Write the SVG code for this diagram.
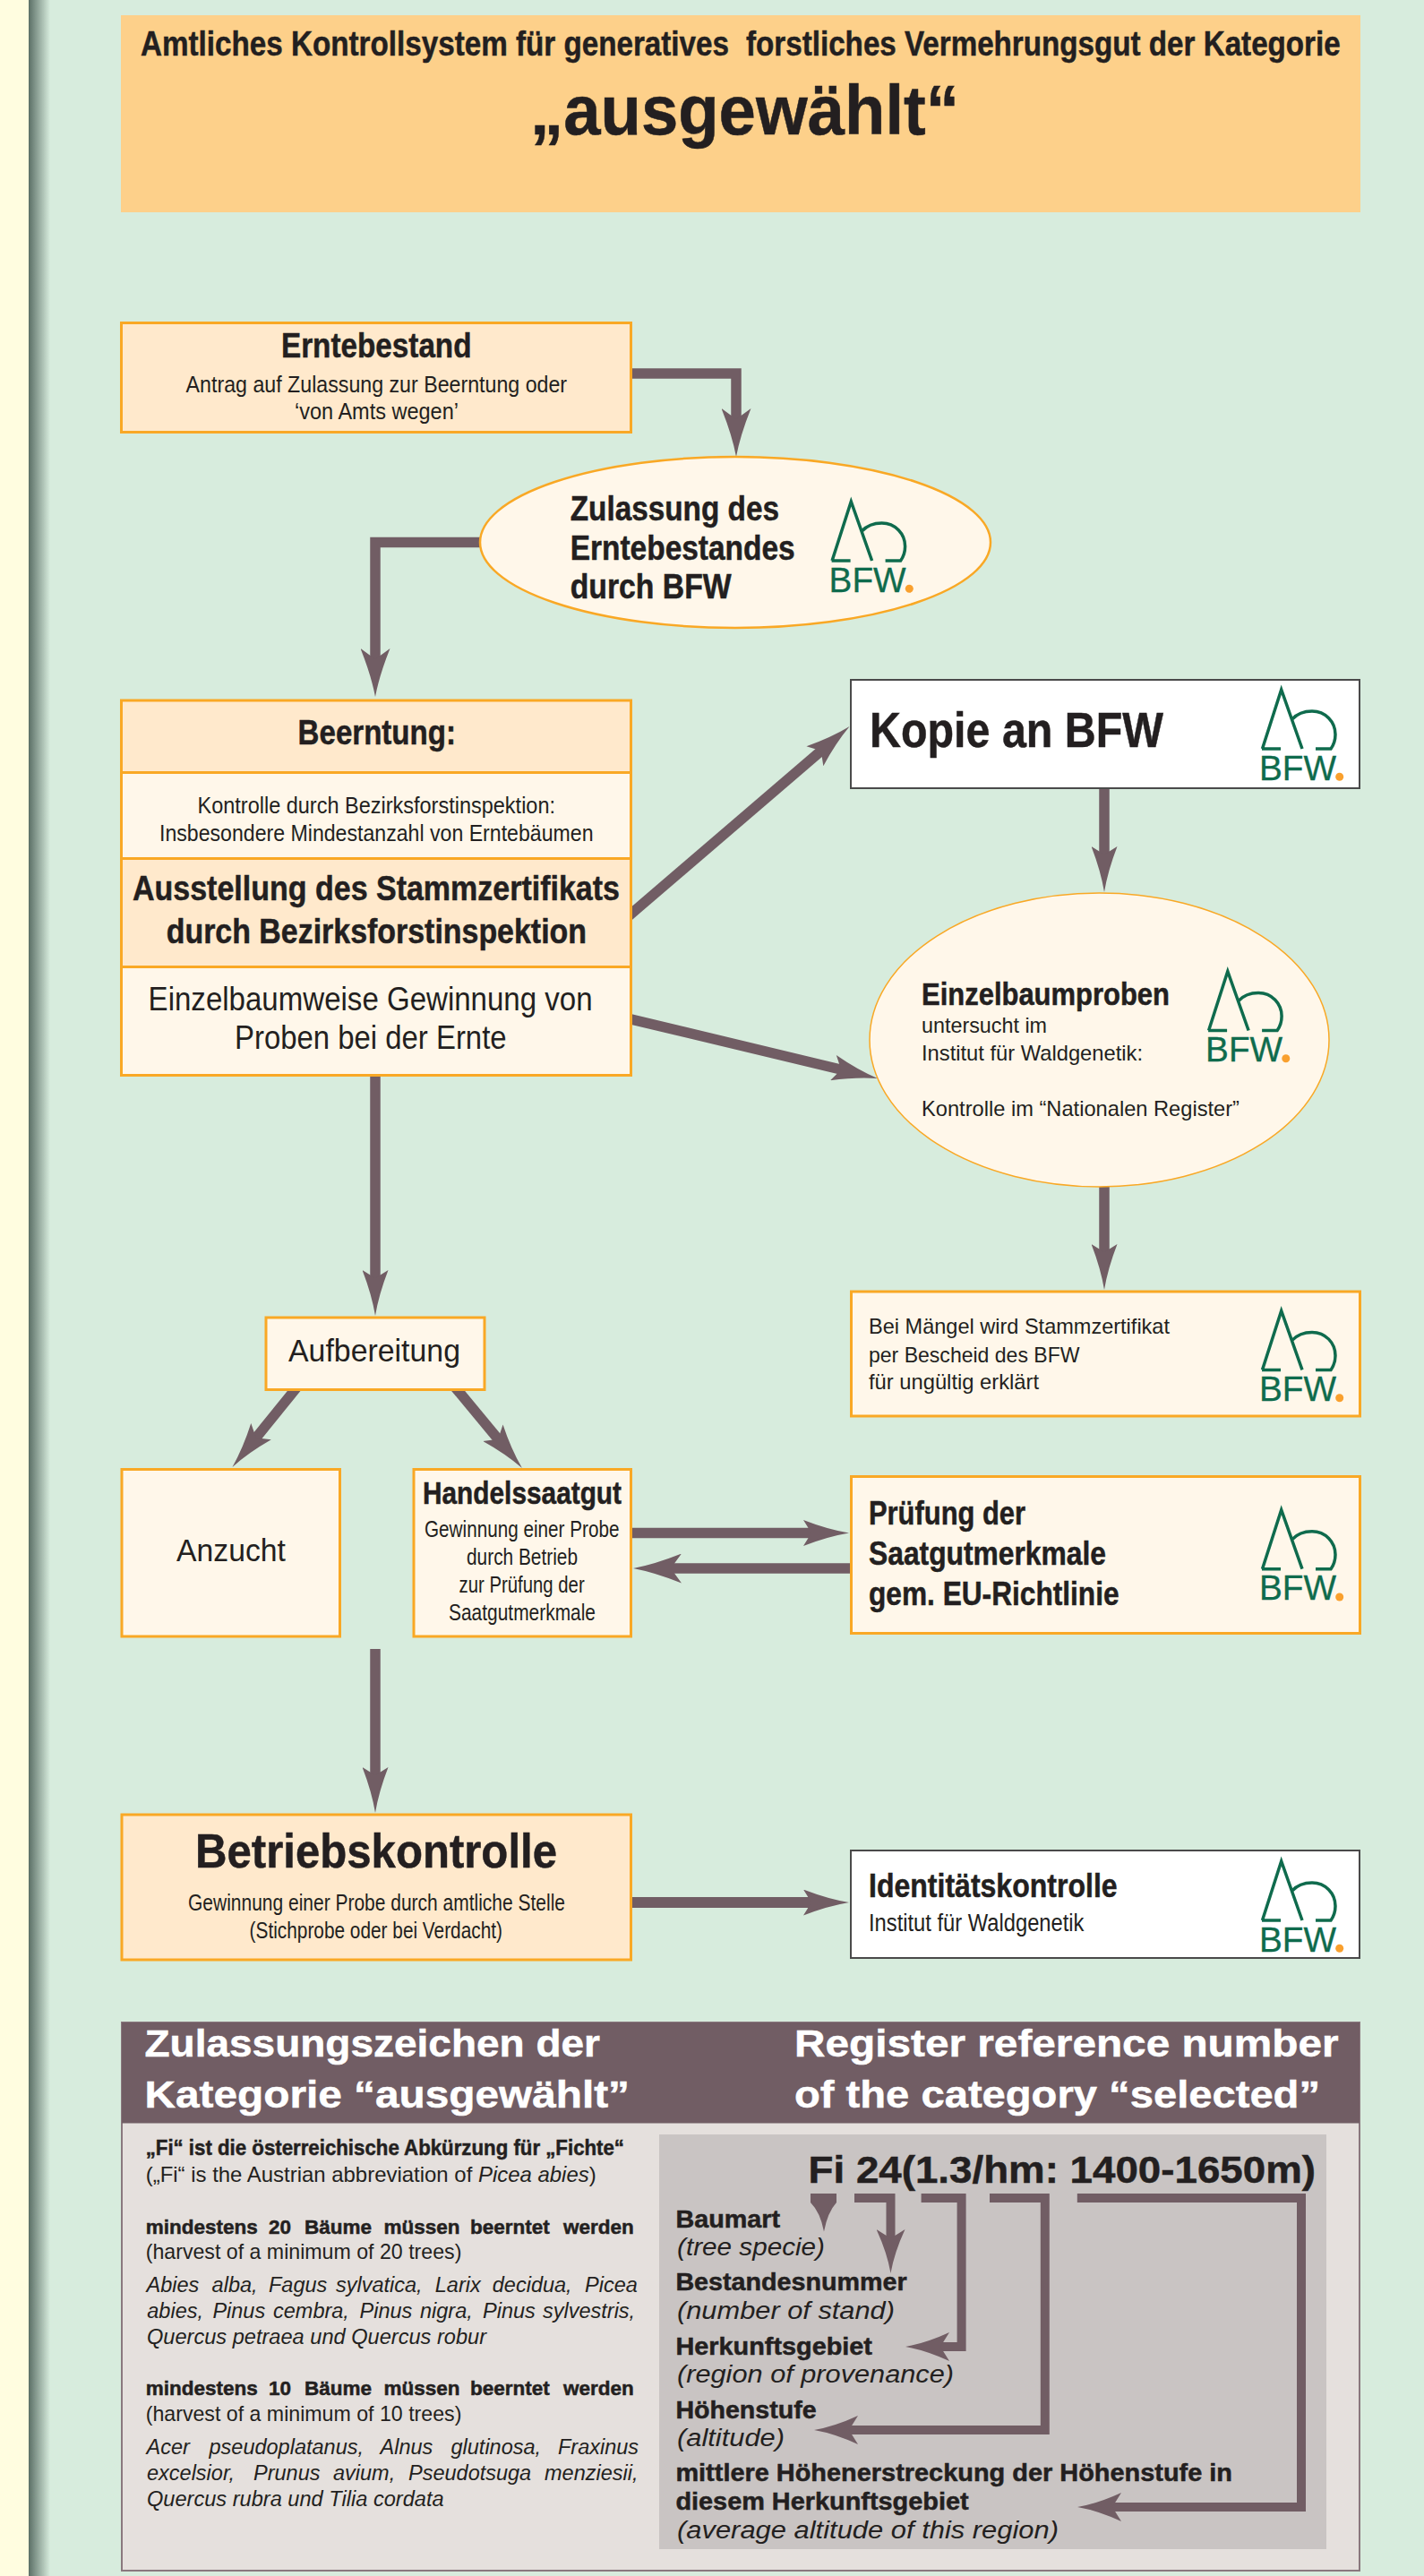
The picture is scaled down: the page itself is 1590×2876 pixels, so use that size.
<svg xmlns="http://www.w3.org/2000/svg" width="1590" height="2876" viewBox="0 0 1590 2876">
<style>
text{fill:#231f20;font-family:"Liberation Sans",Arial,sans-serif}
.n{font-family:"Liberation Sans Narrow","Liberation Sans",Arial,sans-serif}
.bd{font-weight:700;stroke:#231f20;stroke-width:.5}
.it{font-style:italic}
.wh{fill:#fff;stroke:#fff}
.box{stroke:#f9a825;stroke-width:3}
.cream{fill:#fff7ea}
.peach{fill:#ffe9cc}
.plain{fill:#fff;stroke:#4a4a4a;stroke-width:2}
.conn{fill:none;stroke:#715d64;stroke-width:11.500}
.small{stroke-width:10}
.lgL{fill:none;stroke:#0f6b4d;stroke-width:3.500}
.lgT{fill:#0f6b4d;font-size:38px;stroke:#0f6b4d;stroke-width:.3}
</style>
<defs>
<linearGradient id="edge" gradientUnits="userSpaceOnUse" x1="32" y1="0" x2="56" y2="0">
<stop offset="0" stop-color="#5b6f66"/><stop offset="1" stop-color="#d7ecdd"/>
</linearGradient>
<marker id="ah" markerUnits="userSpaceOnUse" viewBox="0 0 54 33" markerWidth="54" markerHeight="33" refX="22" refY="16.5" orient="auto">
<path d="M0,0Q30,12 54,16.5Q30,21 0,33L12,16.5Z" fill="#715d64"/>
</marker>
<marker id="am" markerUnits="userSpaceOnUse" viewBox="0 0 54 29" markerWidth="54" markerHeight="29" refX="22" refY="14.5" orient="auto">
<path d="M3,0Q30,10.500 54,14.500Q30,18.500 3,29L12,14.500Z" fill="#715d64"/>
</marker>
<marker id="as" markerUnits="userSpaceOnUse" viewBox="0 0 49 32" markerWidth="49" markerHeight="32" refX="20" refY="16" orient="auto">
<path d="M0,0Q26,12 49,16Q26,20 0,32L10,16Z" fill="#715d64"/>
</marker>
<g id="logo">
<path class="lgL" d="M29.500,86L50.700,20L74,86M29,86H50M62.700,53Q71,44 85,44C100,44 111,56 111,70Q111,79 106,86H89"/>
<text class="lgT" x="26" y="120.500" textLength="86" lengthAdjust="spacingAndGlyphs">BFW</text>
<circle cx="115.700" cy="117.300" r="4.500" fill="#f9a02e"/>
</g>
</defs>

<rect width="1590" height="2876" fill="#d7ecdd"/>
<rect x="32" width="24" height="2876" fill="url(#edge)"/>
<rect width="32" height="2876" fill="#fffde0"/>

<g id="header">
<rect x="135" y="17" width="1384" height="220" fill="#fdd08a"/>
<text class="n bd" x="157" y="62" font-size="38" textLength="657" lengthAdjust="spacingAndGlyphs">Amtliches Kontrollsystem für generatives</text>
<text class="n bd" x="833" y="62" font-size="38" textLength="663.700" lengthAdjust="spacingAndGlyphs">forstliches Vermehrungsgut der Kategorie</text>
<text class="bd" x="592" y="150" font-size="77" textLength="479" lengthAdjust="spacingAndGlyphs">„ausgewählt“</text>
</g>

<g id="panel-frame">
<rect x="136" y="2258" width="1382" height="612" fill="#e5e0dd" stroke="#8a787e" stroke-width="2"/>
<rect x="136" y="2258" width="1382" height="112.500" fill="#715d64"/>
<rect x="736" y="2383" width="745" height="463" fill="#c9c4c3"/>
</g>

<g id="connectors">
<path class="conn" marker-end="url(#ah)" d="M700,417H822V478"/>
<path class="conn" marker-end="url(#ah)" d="M540,605.500H419V746"/>
<path class="conn" marker-end="url(#am)" d="M700,1024.300L924.300,831.800"/>
<path class="conn" marker-end="url(#am)" d="M700,1136.800L948.900,1196.500"/>
<path class="conn" marker-end="url(#am)" d="M1233,878V964"/>
<path class="conn" marker-end="url(#am)" d="M1233,1323V1408"/>
<path class="conn" marker-end="url(#am)" d="M419,1198V1437"/>
<path class="conn" marker-end="url(#am)" d="M333,1547L279.600,1613"/>
<path class="conn" marker-end="url(#am)" d="M507.500,1548L562.500,1614.400"/>
<path class="conn" marker-end="url(#am)" d="M700,1711.500H916"/>
<path class="conn" marker-end="url(#ah)" d="M952,1751H739"/>
<path class="conn" marker-end="url(#am)" d="M419,1841V1992"/>
<path class="conn" style="stroke-width:12" marker-end="url(#am)" d="M700,2124H916"/>
<path d="M905,2449H934V2459Q924,2470 920,2491.500Q916,2470 905,2459Z" fill="#715d64"/>
<path class="conn small" marker-end="url(#as)" d="M954,2454H994.500V2509"/>
<path class="conn small" marker-end="url(#as)" d="M1028.600,2454H1073.600V2620H1040"/>
<path class="conn small" marker-end="url(#as)" d="M1105,2454H1166.800V2713H938"/>
<path class="conn small" marker-end="url(#as)" d="M1202.800,2454H1453V2799H1232"/>
</g>

<g id="erntebestand">
<rect class="box peach" x="135.500" y="360.500" width="569" height="122"/>
<text class="n bd" x="314" y="398.500" font-size="38" textLength="212.500" lengthAdjust="spacingAndGlyphs">Erntebestand</text>
<text class="n" x="207.600" y="437.500" font-size="26" textLength="425.500" lengthAdjust="spacingAndGlyphs">Antrag auf Zulassung zur Beerntung oder</text>
<text class="n" x="329" y="468" font-size="26" textLength="183" lengthAdjust="spacingAndGlyphs">‘von Amts wegen’</text>
</g>

<g id="zulassung">
<ellipse class="cream" cx="821" cy="605.500" rx="285" ry="95.500" stroke="#f9a825" stroke-width="2.500"/>
<text class="n bd" x="636.700" y="580.700" font-size="38" textLength="233.300" lengthAdjust="spacingAndGlyphs">Zulassung des</text>
<text class="n bd" x="636.700" y="625" font-size="38" textLength="251" lengthAdjust="spacingAndGlyphs">Erntebestandes</text>
<text class="n bd" x="636.700" y="667.700" font-size="38" textLength="180" lengthAdjust="spacingAndGlyphs">durch BFW</text>
<use href="#logo" x="899.600" y="540"/>
</g>

<g id="beerntung">
<rect class="box peach" x="135.500" y="782" width="569" height="80.500"/>
<rect class="box cream" x="135.500" y="862.500" width="569" height="96"/>
<rect class="box peach" x="135.500" y="958.500" width="569" height="121"/>
<rect class="box cream" x="135.500" y="1079.500" width="569" height="121"/>
<text class="n bd" x="332.600" y="831" font-size="38" textLength="176.400" lengthAdjust="spacingAndGlyphs">Beerntung:</text>
<text class="n" x="220.500" y="908.400" font-size="26" textLength="399.500" lengthAdjust="spacingAndGlyphs">Kontrolle durch Bezirksforstinspektion:</text>
<text class="n" x="178" y="939" font-size="26" textLength="484.500" lengthAdjust="spacingAndGlyphs">Insbesondere Mindestanzahl von Erntebäumen</text>
<text class="n bd" x="148" y="1004.600" font-size="38" textLength="544" lengthAdjust="spacingAndGlyphs">Ausstellung des Stammzertifikats</text>
<text class="n bd" x="185.700" y="1052.700" font-size="38" textLength="469.300" lengthAdjust="spacingAndGlyphs">durch Bezirksforstinspektion</text>
<text class="n" x="165.600" y="1128" font-size="36" textLength="496" lengthAdjust="spacingAndGlyphs">Einzelbaumweise Gewinnung von</text>
<text class="n" x="262" y="1171" font-size="36" textLength="303.600" lengthAdjust="spacingAndGlyphs">Proben bei der Ernte</text>
</g>

<g id="kopie">
<rect class="plain" x="950" y="759" width="568" height="121"/>
<text class="bd" x="971" y="833.700" font-size="55" textLength="328" lengthAdjust="spacingAndGlyphs">Kopie an BFW</text>
<use href="#logo" x="1380" y="750"/>
</g>

<g id="einzelbaumproben">
<ellipse class="cream" cx="1227.500" cy="1161" rx="256.500" ry="164" stroke="#f9a825" stroke-width="1.500"/>
<text class="bd" x="1029" y="1122" font-size="35" textLength="277" lengthAdjust="spacingAndGlyphs">Einzelbaumproben</text>
<text x="1029" y="1153" font-size="24" textLength="140" lengthAdjust="spacingAndGlyphs">untersucht im</text>
<text x="1029" y="1184" font-size="24" textLength="247" lengthAdjust="spacingAndGlyphs">Institut für Waldgenetik:</text>
<text x="1029" y="1246" font-size="24" textLength="355" lengthAdjust="spacingAndGlyphs">Kontrolle im “Nationalen Register”</text>
<use href="#logo" x="1320.100" y="1064.500"/>
</g>

<g id="maengel">
<rect class="box cream" x="950.500" y="1442" width="568" height="139"/>
<text x="970" y="1489" font-size="24" textLength="336" lengthAdjust="spacingAndGlyphs">Bei Mängel wird Stammzertifikat</text>
<text x="970" y="1521" font-size="24" textLength="235.500" lengthAdjust="spacingAndGlyphs">per Bescheid des BFW</text>
<text x="970" y="1551" font-size="24" textLength="190" lengthAdjust="spacingAndGlyphs">für ungültig erklärt</text>
<use href="#logo" x="1380" y="1443.400"/>
</g>

<g id="aufbereitung">
<rect class="box cream" x="297" y="1471" width="244" height="80.500"/>
<text x="322" y="1520" font-size="35" textLength="192" lengthAdjust="spacingAndGlyphs">Aufbereitung</text>
</g>

<g id="anzucht">
<rect class="box cream" x="136" y="1640.500" width="243.500" height="186.500"/>
<text x="197" y="1743" font-size="35" textLength="122" lengthAdjust="spacingAndGlyphs">Anzucht</text>
</g>

<g id="handelssaatgut">
<rect class="box cream" x="462" y="1640.500" width="242.500" height="186.500"/>
<text class="n bd" x="472" y="1679" font-size="35" textLength="222" lengthAdjust="spacingAndGlyphs">Handelssaatgut</text>
<text class="n" x="474" y="1716" font-size="26" textLength="217.500" lengthAdjust="spacingAndGlyphs">Gewinnung einer Probe</text>
<text class="n" x="521" y="1747" font-size="26" textLength="124" lengthAdjust="spacingAndGlyphs">durch Betrieb</text>
<text class="n" x="512.500" y="1778" font-size="26" textLength="140.200" lengthAdjust="spacingAndGlyphs">zur Prüfung der</text>
<text class="n" x="501" y="1809" font-size="26" textLength="164" lengthAdjust="spacingAndGlyphs">Saatgutmerkmale</text>
</g>

<g id="pruefung">
<rect class="box cream" x="950.500" y="1648.500" width="568" height="175"/>
<text class="n bd" x="970" y="1701.700" font-size="37" textLength="175" lengthAdjust="spacingAndGlyphs">Prüfung der</text>
<text class="n bd" x="970" y="1746.700" font-size="37" textLength="265" lengthAdjust="spacingAndGlyphs">Saatgutmerkmale</text>
<text class="n bd" x="970" y="1791.700" font-size="37" textLength="279.600" lengthAdjust="spacingAndGlyphs">gem. EU-Richtlinie</text>
<use href="#logo" x="1380" y="1665.700"/>
</g>

<g id="betriebskontrolle">
<rect class="box peach" x="136" y="2026" width="568.500" height="162"/>
<text class="bd" x="218" y="2084.700" font-size="54" textLength="404" lengthAdjust="spacingAndGlyphs">Betriebskontrolle</text>
<text class="n" x="210" y="2133" font-size="26" textLength="421" lengthAdjust="spacingAndGlyphs">Gewinnung einer Probe durch amtliche Stelle</text>
<text class="n" x="278.600" y="2163.700" font-size="26" textLength="282.400" lengthAdjust="spacingAndGlyphs">(Stichprobe oder bei Verdacht)</text>
</g>

<g id="identitaet">
<rect class="plain" x="950" y="2066" width="568" height="120"/>
<text class="n bd" x="970" y="2118.300" font-size="37" textLength="277.600" lengthAdjust="spacingAndGlyphs">Identitätskontrolle</text>
<text class="n" x="970" y="2155.700" font-size="27" textLength="240.500" lengthAdjust="spacingAndGlyphs">Institut für Waldgenetik</text>
<use href="#logo" x="1380" y="2058"/>
</g>

<g id="panel-left">
<text class="bd wh" x="161.500" y="2296" font-size="43" textLength="508.500" lengthAdjust="spacingAndGlyphs">Zulassungszeichen der</text>
<text class="bd wh" x="161.500" y="2353" font-size="43" textLength="541.500" lengthAdjust="spacingAndGlyphs">Kategorie “ausgewählt”</text>
<text class="bd" x="162.700" y="2406" font-size="24" textLength="534.300" lengthAdjust="spacingAndGlyphs">„Fi“ ist die österreichische Abkürzung für „Fichte“</text>
<text x="162.700" y="2436" font-size="24" textLength="503" lengthAdjust="spacingAndGlyphs">(„Fi“ is the Austrian abbreviation of <tspan class="it">Picea abies</tspan>)</text>
<text class="bd" y="2493.500" font-size="22.500"><tspan x="162.700">mindestens</tspan><tspan x="300">20</tspan><tspan x="340">Bäume</tspan><tspan x="428.400">müssen</tspan><tspan x="525">beerntet</tspan><tspan x="629">werden</tspan></text>
<text x="162.700" y="2522" font-size="24" textLength="352.700" lengthAdjust="spacingAndGlyphs">(harvest of a minimum of 20 trees)</text>
<text class="it" y="2559" font-size="23.500"><tspan x="163.500">Abies</tspan><tspan x="236.600">alba,</tspan><tspan x="300">Fagus</tspan><tspan x="375">sylvatica,</tspan><tspan x="485.800">Larix</tspan><tspan x="549.800">decidua,</tspan><tspan x="653">Picea</tspan></text>
<text class="it" y="2588" font-size="23.500"><tspan x="164.300">abies,</tspan><tspan x="237.400">Pinus</tspan><tspan x="305">cembra,</tspan><tspan x="401.500">Pinus</tspan><tspan x="469">nigra,</tspan><tspan x="539">Pinus</tspan><tspan x="606">sylvestris,</tspan></text>
<text class="it" x="164" y="2617" font-size="23.500" textLength="379" lengthAdjust="spacingAndGlyphs">Quercus petraea und Quercus robur</text>
<text class="bd" y="2674" font-size="22.500"><tspan x="162.700">mindestens</tspan><tspan x="300">10</tspan><tspan x="340">Bäume</tspan><tspan x="428.400">müssen</tspan><tspan x="525">beerntet</tspan><tspan x="629">werden</tspan></text>
<text x="162.700" y="2703" font-size="24" textLength="352.700" lengthAdjust="spacingAndGlyphs">(harvest of a minimum of 10 trees)</text>
<text class="it" y="2740" font-size="23.500"><tspan x="163.500">Acer</tspan><tspan x="233.500">pseudoplatanus,</tspan><tspan x="424.500">Alnus</tspan><tspan x="503.500">glutinosa,</tspan><tspan x="623">Fraxinus</tspan></text>
<text class="it" y="2768.600" font-size="23.500"><tspan x="164">excelsior,</tspan><tspan x="283">Prunus</tspan><tspan x="372">avium,</tspan><tspan x="456">Pseudotsuga</tspan><tspan x="608">menziesii,</tspan></text>
<text class="it" x="164" y="2798" font-size="23.500" textLength="331.600" lengthAdjust="spacingAndGlyphs">Quercus rubra und Tilia cordata</text>
</g>

<g id="panel-right">
<text class="bd wh" x="887" y="2296" font-size="43" textLength="607.500" lengthAdjust="spacingAndGlyphs">Register reference number</text>
<text class="bd wh" x="887" y="2353" font-size="43" textLength="587" lengthAdjust="spacingAndGlyphs">of the category “selected”</text>
<text class="bd" x="902.600" y="2436.700" font-size="43" textLength="566.400" lengthAdjust="spacingAndGlyphs">Fi 24(1.3/hm: 1400-1650m)</text>
<text class="n bd" x="754.400" y="2486.600" font-size="27" textLength="116.600" lengthAdjust="spacingAndGlyphs">Baumart</text>
<text class="n it" x="756" y="2518" font-size="27" textLength="165" lengthAdjust="spacingAndGlyphs">(tree specie)</text>
<text class="n bd" x="754.400" y="2557" font-size="27" textLength="258.300" lengthAdjust="spacingAndGlyphs">Bestandesnummer</text>
<text class="n it" x="756" y="2589" font-size="27" textLength="243" lengthAdjust="spacingAndGlyphs">(number of stand)</text>
<text class="n bd" x="754.400" y="2628.600" font-size="27" textLength="219.600" lengthAdjust="spacingAndGlyphs">Herkunftsgebiet</text>
<text class="n it" x="756" y="2660" font-size="27" textLength="309" lengthAdjust="spacingAndGlyphs">(region of provenance)</text>
<text class="n bd" x="754.400" y="2699.600" font-size="27" textLength="157.200" lengthAdjust="spacingAndGlyphs">Höhenstufe</text>
<text class="n it" x="756" y="2731" font-size="27" textLength="120" lengthAdjust="spacingAndGlyphs">(altitude)</text>
<text class="n bd" x="754.400" y="2770" font-size="27" textLength="621.600" lengthAdjust="spacingAndGlyphs">mittlere Höhenerstreckung der Höhenstufe in</text>
<text class="n bd" x="754.400" y="2802" font-size="27" textLength="327.200" lengthAdjust="spacingAndGlyphs">diesem Herkunftsgebiet</text>
<text class="n it" x="756" y="2833.500" font-size="27" textLength="426" lengthAdjust="spacingAndGlyphs">(average altitude of this region)</text>
</g>
</svg>
